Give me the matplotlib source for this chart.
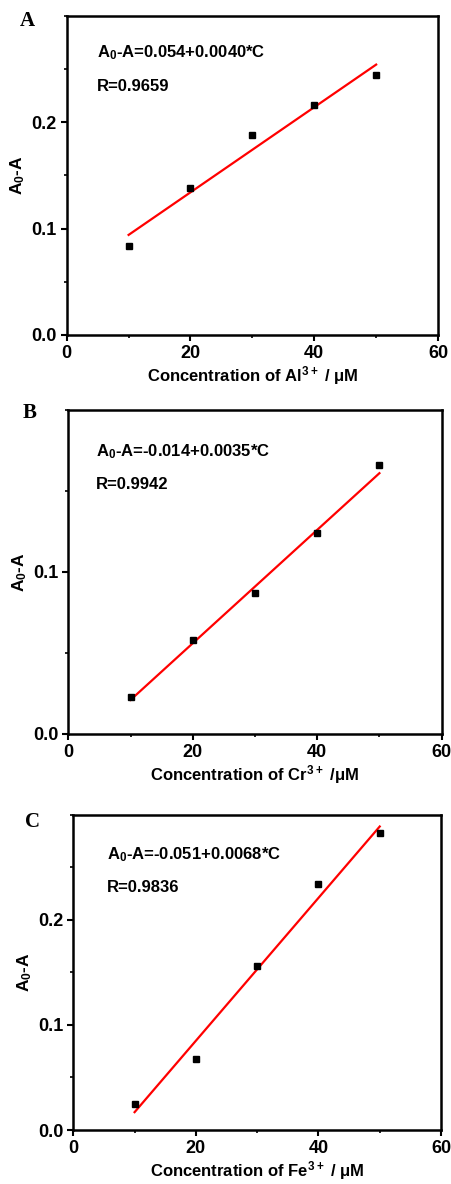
import numpy as np
import matplotlib.pyplot as plt
from matplotlib.ticker import MultipleLocator

plt.rcParams['font.family'] = ['Liberation Sans', 'DejaVu Sans']
plt.rcParams['font.weight'] = 'bold'
plt.rcParams['mathtext.fontset'] = 'custom'
plt.rcParams['mathtext.rm'] = 'Liberation Sans:bold'
plt.rcParams['mathtext.bf'] = 'Liberation Sans:bold'
plt.rcParams['mathtext.default'] = 'bf'

# concentration (uM)
conc = [10, 20, 30, 40, 50]

# measured A0-A for each ion
al_vals = [0.0834, 0.138, 0.188, 0.2164, 0.244]
cr_vals = [0.0227, 0.0582, 0.0868, 0.124, 0.166]
fe_vals = [0.0244, 0.0679, 0.156, 0.234, 0.2825]

# fit coefficients (intercept, slope) and R
al_fit = (0.054, 0.0040)
cr_fit = (-0.014, 0.0035)
fe_fit = (-0.051, 0.0068)

al_yticks = [0.0, 0.1, 0.2]
cr_yticks = [0.0, 0.1]
fe_yticks = [0.0, 0.1, 0.2]

panels = [
    dict(letter='A', xlabel='Concentration of Al$^{3+}$ / \u03bcM', vals=al_vals,
         fit=al_fit, eq='0.054+0.0040*C', r='0.9659', ymax=0.3, yticks=al_yticks,
         pos=[0.1476, 0.7171, 0.8215, 0.2697], tx=0.082, ty=(0.884, 0.777),
         lpos=(0.044, 0.982)),
    dict(letter='B', xlabel='Concentration of Cr$^{3+}$ /\u03bcM', vals=cr_vals,
         fit=cr_fit, eq='-0.014+0.0035*C', r='0.9942', ymax=0.2, yticks=cr_yticks,
         pos=[0.1511, 0.3801, 0.8260, 0.2736], tx=0.074, ty=(0.871, 0.769),
         lpos=(0.051, 0.651)),
    dict(letter='C', xlabel='Concentration of Fe$^{3+}$ / \u03bcM', vals=fe_vals,
         fit=fe_fit, eq='-0.051+0.0068*C', r='0.9836', ymax=0.3, yticks=fe_yticks,
         pos=[0.1622, 0.0456, 0.8135, 0.2661], tx=0.091, ty=(0.873, 0.770),
         lpos=(0.055, 0.306)),
]

fig = plt.figure(figsize=(4.52, 11.84), dpi=100)

for p in panels:
    ax = fig.add_axes(p['pos'])
    x = np.array(conc)
    a, b = p['fit']
    ax.plot(x, a + b * x, color='red', lw=1.6, zorder=2)
    ax.plot(x, p['vals'], 's', color='black', ms=5, zorder=3)

    ax.set_xlim(0, 60)
    ax.set_ylim(0, p['ymax'])
    ax.xaxis.set_major_locator(MultipleLocator(20))
    ax.xaxis.set_minor_locator(MultipleLocator(10))
    ax.set_yticks(p['yticks'])
    ax.set_yticklabels(['%.1f' % v for v in p['yticks']])
    ax.yaxis.set_minor_locator(MultipleLocator(0.05))
    ax.tick_params(which='major', direction='out', length=4, width=1.5,
                   labelsize=13, pad=3)
    ax.tick_params(which='minor', direction='out', length=2, width=1.2)
    for s in ax.spines.values():
        s.set_linewidth(1.8)

    ax.set_xlabel(p['xlabel'], fontsize=12, fontweight='bold', labelpad=2)
    ax.set_ylabel('A$_{0}$-A', fontsize=12.5, fontweight='bold', labelpad=3)

    ax.text(p['tx'], p['ty'][0], 'A$_{0}$-A=' + p['eq'], transform=ax.transAxes,
            fontsize=12, fontweight='bold', va='center')
    ax.text(p['tx'], p['ty'][1], 'R=' + p['r'], transform=ax.transAxes,
            fontsize=12, fontweight='bold', va='center')

    fig.text(p['lpos'][0], p['lpos'][1], p['letter'],
             family='Liberation Serif', fontsize=15, fontweight='bold',
             va='center', ha='left')

fig.savefig('out.png', dpi=100)
